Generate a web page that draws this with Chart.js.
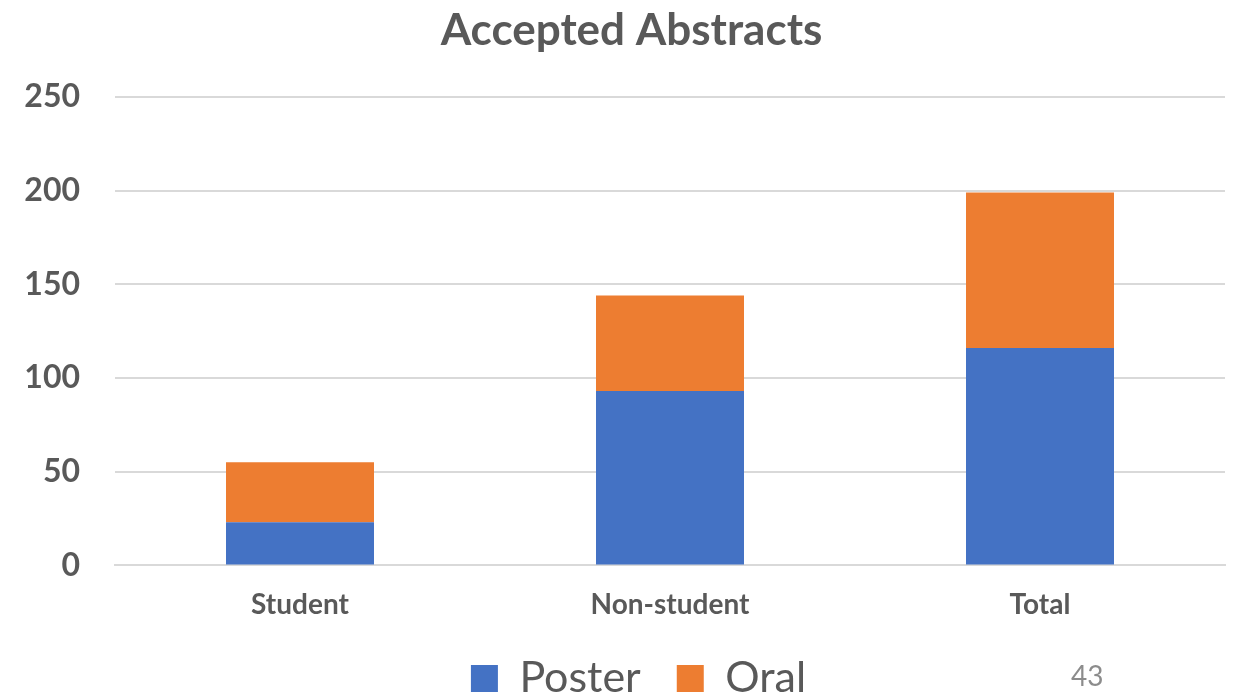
<!DOCTYPE html>
<html>
<head>
<meta charset="utf-8">
<script src="https://cdn.jsdelivr.net/npm/chart.js@4/dist/chart.umd.min.js"></script>
<style>
  html, body { margin: 0; padding: 0; background: #ffffff; }
  #wrap { position: relative; width: 1240px; height: 694px; overflow: hidden; }
  #pageNum { position: absolute; left: 1071px; top: 658px; font: 28px Lato, "Open Sans", sans-serif; color: #8c8c8c; }
</style>
</head>
<body>
<div id="wrap">
  <canvas id="chart"></canvas>
  <div id="pageNum">43</div>
</div>
<script>
// Accepted abstracts by submitter group
const categories = ["Student", "Non-student", "Total"];
const posterCounts = [23, 93, 116];
const oralCounts = [32, 51, 83];
const yTicks = [0, 50, 100, 150, 200, 250];

const FONT = "Lato, 'Open Sans', sans-serif";
const TEXT = "#595959";

// shift the title and legend rows slightly right of the centred position
const blockNudge = {
  id: "blockNudge",
  afterLayout(chart) {
    if (chart.titleBlock) { chart.titleBlock.left += 9; chart.titleBlock.right += 9; }
    if (chart.legend) { chart.legend.left += 16; chart.legend.right += 16; }
  }
};

new Chart(document.getElementById("chart"), {
  type: "bar",
  data: {
    labels: categories,
    datasets: [
      { label: "Poster", data: posterCounts, backgroundColor: "#4472c4", borderWidth: 0 },
      { label: "Oral", data: oralCounts, backgroundColor: "#ed7d31", borderWidth: 0 }
    ]
  },
  plugins: [blockNudge],
  options: {
    responsive: true,
    maintainAspectRatio: false,
    animation: false,
    layout: { padding: { left: 20, right: 15, top: 0, bottom: -16 } },
    datasets: { bar: { categoryPercentage: 1.0, barPercentage: 0.4 } },
    plugins: {
      title: {
        display: true,
        text: "Accepted Abstracts",
        color: TEXT,
        font: { family: FONT, size: 44, weight: "bold" },
        padding: { top: 4, bottom: 40 }
      },
      legend: {
        position: "bottom",
        labels: {
          color: TEXT,
          font: { family: FONT, size: 43 },
          boxWidth: 27,
          boxHeight: 27,
          padding: 36
        }
      },
      tooltip: { enabled: false }
    },
    scales: {
      x: {
        stacked: true,
        grid: { display: false },
        border: { display: true, color: "#d9d9d9", width: 2 },
        ticks: { color: TEXT, font: { family: FONT, size: 28, weight: "bold" }, padding: 15 },
        afterFit: (axis) => { axis.height = axis.height - 16; }
      },
      y: {
        stacked: true,
        min: 0,
        max: 250,
        afterBuildTicks: (axis) => { axis.ticks = yTicks.map(v => ({ value: v })); },
        afterFit: (axis) => { axis.width = 95; },
        grid: { color: "#d9d9d9", lineWidth: 2, drawTicks: false },
        border: { display: false },
        ticks: { color: TEXT, font: { family: FONT, size: 32, weight: "bold" }, padding: 35 }
      }
    }
  }
});
</script>
</body>
</html>
